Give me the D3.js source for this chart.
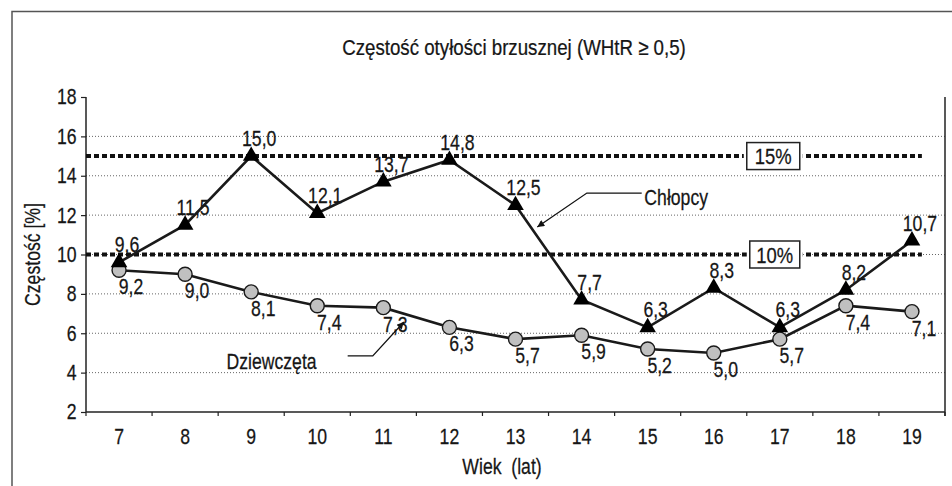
<!DOCTYPE html>
<html>
<head>
<meta charset="utf-8">
<script src="https://cdn.jsdelivr.net/npm/d3@7"></script>
<style>
  html, body { margin: 0; padding: 0; background: #fff; }
  svg { display: block; }
  text { font-family: "Liberation Sans", Arial, sans-serif; fill: #161616; stroke: #161616; stroke-width: 0.25px; }
</style>
</head>
<body>
<svg id="chart" width="952" height="486"></svg>
<script>
// ---- data ----
const ages = [7, 8, 9, 10, 11, 12, 13, 14, 15, 16, 17, 18, 19];
const boys = [9.6, 11.5, 15.0, 12.1, 13.7, 14.8, 12.5, 7.7, 6.3, 8.3, 6.3, 8.2, 10.7];
const girls = [9.2, 9.0, 8.1, 7.4, 7.3, 6.3, 5.7, 5.9, 5.2, 5.0, 5.7, 7.4, 7.1];
const yTicks = [2, 4, 6, 8, 10, 12, 14, 16, 18];
const gridValues = [4, 6, 8, 10, 12, 14, 16];
const thresholds = [15, 10];
const thresholdLabels = ["15%", "10%"];
const title = "Częstość otyłości brzusznej (WHtR ≥ 0,5)";
const yTitle = "Częstość [%]";
const xTitle = "Wiek  (lat)";
const seriesNames = ["Chłopcy", "Dziewczęta"];

const fmt = v => v.toFixed(1).replace(".", ",");
const SX = 0.82;     // horizontal condensing of text
const FS = 21.5;     // font size

// ---- layout ----
const svg = d3.select("#chart");
const L = 86, R = 945, T = 97, B = 412;

const x = d3.scaleBand().domain(ages).range([L, R]);
const xc = d3.scaleLinear().domain([ages[0] - 0.5, ages[ages.length - 1] + 0.5]).range([L, R]);
const y = d3.scaleLinear().domain([2, 18]).range([B, T]);
const cx = a => x(a) + x.bandwidth() / 2;

function label(g, px, py, txt, opts = {}) {
  const rot = opts.rotate ? ` rotate(${opts.rotate})` : "";
  return g.append("text")
    .attr("transform", `translate(${px},${py})${rot} scale(${opts.sx || SX},1)`)
    .attr("text-anchor", opts.anchor || "start")
    .style("font-size", (opts.size || FS) + "px")
    .style("white-space", "pre")
    .text(txt);
}

// outer frame
svg.append("rect")
  .attr("x", 12).attr("y", 11.5).attr("width", 960).attr("height", 500)
  .attr("fill", "none").attr("stroke", "#555").attr("stroke-width", 1.5);

// title
label(svg, 514, 55, title, { anchor: "middle", size: 22, sx: 0.85 });

// grid
svg.append("g").selectAll("line").data(gridValues).join("line")
  .attr("x1", L).attr("x2", R).attr("y1", d => y(d)).attr("y2", d => y(d))
  .attr("stroke", "#666").attr("stroke-width", 1).attr("stroke-dasharray", "1,2");

// y axis
const yAxis = svg.append("g").attr("transform", `translate(${L},0)`)
  .call(d3.axisLeft(y).tickValues(yTicks).tickSize(5).tickPadding(6.5).tickFormat(d3.format("d")));
yAxis.select(".domain").attr("stroke", "#222").attr("stroke-width", 1.5).attr("d", `M0,${T}V${B}`);
yAxis.selectAll(".tick line").attr("stroke", "#222").attr("stroke-width", 1.2);
yAxis.selectAll(".tick text").style("font-size", FS + "px")
  .style("font-family", "'Liberation Sans',Arial,sans-serif")
  .attr("transform", `scale(${SX},1)`);

// x axis
const xAxis = svg.append("g").attr("transform", `translate(0,${B})`)
  .call(d3.axisBottom(x).tickSize(0).tickPadding(17));
xAxis.select(".domain").attr("stroke", "#222").attr("stroke-width", 1.5).attr("d", `M${L},0H${R}`);
xAxis.selectAll(".tick text").style("font-size", FS + "px")
  .style("font-family", "'Liberation Sans',Arial,sans-serif")
  .attr("transform", `scale(${SX},1)`);
const bounds = ages.map(a => x(a)).concat([R]);
svg.append("g").selectAll("line").data(bounds).join("line")
  .attr("x1", d => d).attr("x2", d => d).attr("y1", B).attr("y2", B + 4)
  .attr("stroke", "#222").attr("stroke-width", 1.2);
// right axis line
svg.append("line").attr("x1", R).attr("x2", R).attr("y1", T).attr("y2", B + 4)
  .attr("stroke", "#222").attr("stroke-width", 1.5);

// axis titles
label(svg, 40, y(10), yTitle, { anchor: "middle", rotate: -90 });
label(svg, 502, 474, xTitle, { anchor: "middle" });

// value labels (drawn under markers)
const gl = svg.append("g");
ages.forEach((a, i) => {
  label(gl, cx(a) + 8, y(boys[i]) - 10, fmt(boys[i]), { anchor: "middle" });
  label(gl, cx(a) + 12, y(girls[i]) + 24, fmt(girls[i]), { anchor: "middle" });
});

// threshold lines
const thrEnd = xc(19.15);
const boxL = xc(16.5), boxW = 53;
thresholds.forEach((t, i) => {
  svg.append("line").attr("x1", L).attr("x2", thrEnd).attr("y1", y(t)).attr("y2", y(t))
    .attr("stroke", "#111").attr("stroke-width", 4).attr("stroke-dasharray", "5,3");
  const bx = boxL + (i === 1 ? 3 : 0);
  const bw = boxW - (i === 1 ? 3 : 0);
  svg.append("rect").attr("x", bx - 3).attr("y", y(t) - 16).attr("width", bw + 6).attr("height", 32)
    .attr("fill", "#fff");
  svg.append("rect").attr("x", bx).attr("y", y(t) - 13.5).attr("width", bw).attr("height", 27)
    .attr("fill", "#fff").attr("stroke", "#222").attr("stroke-width", 1.5);
  label(svg, bx + bw / 2, y(t) + 8, thresholdLabels[i], { anchor: "middle", size: 22.5 });
});

// series lines
const line = d3.line().x((d, i) => cx(ages[i])).y(d => y(d));
svg.append("path").datum(girls).attr("d", line).attr("fill", "none")
  .attr("stroke", "#1a1a1a").attr("stroke-width", 2.6);
svg.append("path").datum(boys).attr("d", line).attr("fill", "none")
  .attr("stroke", "#1a1a1a").attr("stroke-width", 2.6);

// markers
svg.append("g").selectAll("circle").data(girls).join("circle")
  .attr("cx", (d, i) => cx(ages[i])).attr("cy", d => y(d)).attr("r", 7)
  .attr("fill", "#c0c0c0").attr("stroke", "#1a1a1a").attr("stroke-width", 1.4);
svg.append("g").selectAll("path").data(boys).join("path")
  .attr("transform", (d, i) => `translate(${cx(ages[i])},${y(d)})`)
  .attr("d", d3.symbol(d3.symbolTriangle, 120)).attr("fill", "#000");

// annotations with arrows
const defs = svg.append("defs");
defs.append("marker").attr("id", "arrow").attr("viewBox", "0 0 10 10")
  .attr("refX", 10).attr("refY", 5).attr("markerWidth", 10).attr("markerHeight", 7)
  .attr("markerUnits", "userSpaceOnUse").attr("orient", "auto")
  .append("path").attr("d", "M0,0L10,5L0,10Z").attr("fill", "#111");

const annBoys = [[14.91, 13.12], [14.08, 13.12], [13.33, 11.4]];
const annGirls = [[10.46, 4.85], [10.84, 4.85], [11.31, 6.57]];
const annLine = d3.line().x(d => xc(d[0])).y(d => y(d[1]));
svg.append("path").attr("d", annLine(annBoys)).attr("fill", "none")
  .attr("stroke", "#111").attr("stroke-width", 1.3).attr("marker-end", "url(#arrow)");
svg.append("path").attr("d", annLine(annGirls)).attr("fill", "none")
  .attr("stroke", "#111").attr("stroke-width", 1.3).attr("marker-end", "url(#arrow)");
label(svg, xc(14.95), y(12.52), seriesNames[0]);
label(svg, xc(9.99), y(4.19), seriesNames[1], { anchor: "end" });
</script>
</body>
</html>
